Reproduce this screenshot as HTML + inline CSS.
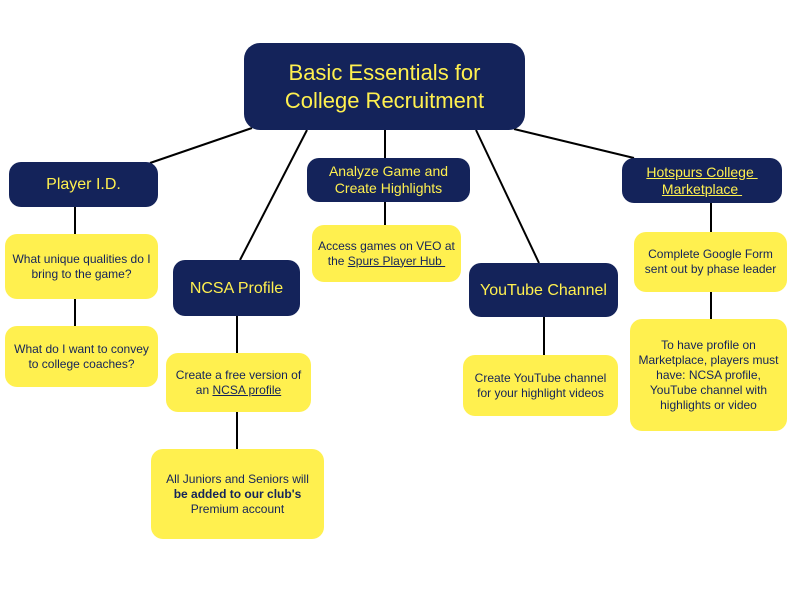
<!DOCTYPE html>
<html><head><style>
body{margin:0;width:792px;height:612px;background:#fff;position:relative;overflow:hidden;font-family:"Liberation Sans",sans-serif}
.b{position:absolute;display:flex;align-items:center;justify-content:center;text-align:center;box-sizing:border-box}
.n{background:#14235a;color:#fff04f;border-radius:12px;font-size:16px;line-height:19px}
.y{background:#fff04f;color:#14235a;border-radius:12px;font-size:12px;line-height:15px;padding:0 2px}
u{text-decoration:underline}
svg{position:absolute;left:0;top:0}
</style></head><body>
<svg width="792" height="612" stroke="#000" stroke-width="2">
<line x1="252" y1="128" x2="150" y2="163"/>
<line x1="307" y1="130" x2="240" y2="260"/>
<line x1="385" y1="130" x2="385" y2="158"/>
<line x1="476" y1="130" x2="539" y2="263"/>
<line x1="514" y1="129" x2="634" y2="158"/>
<line x1="75" y1="207" x2="75" y2="234"/>
<line x1="75" y1="299" x2="75" y2="326"/>
<line x1="237" y1="316" x2="237" y2="353"/>
<line x1="237" y1="412" x2="237" y2="449"/>
<line x1="385" y1="202" x2="385" y2="225"/>
<line x1="544" y1="317" x2="544" y2="355"/>
<line x1="711" y1="203" x2="711" y2="232"/>
<line x1="711" y1="292" x2="711" y2="319"/>
</svg>
<div class="b n" style="left:244px;top:43px;width:281px;height:87px;font-size:22px;line-height:28px;border-radius:16px"><span>Basic Essentials for<br>College Recruitment</span></div>
<div class="b n" style="left:9px;top:162px;width:149px;height:45px"><span>Player I.D.</span></div>
<div class="b n" style="left:173px;top:260px;width:127px;height:56px"><span>NCSA Profile</span></div>
<div class="b n" style="left:307px;top:158px;width:163px;height:44px;font-size:14px;line-height:17px"><span>Analyze Game and<br>Create Highlights</span></div>
<div class="b n" style="left:469px;top:263px;width:149px;height:54px"><span>YouTube Channel</span></div>
<div class="b n" style="left:622px;top:158px;width:160px;height:45px;font-size:14px;line-height:17px"><span><u>Hotspurs College&nbsp;</u><br><u>Marketplace&nbsp;</u></span></div>
<div class="b y" style="left:5px;top:234px;width:153px;height:65px"><span>What unique qualities do I<br>bring to the game?</span></div>
<div class="b y" style="left:5px;top:326px;width:153px;height:61px"><span>What do I want to convey<br>to college coaches?</span></div>
<div class="b y" style="left:166px;top:353px;width:145px;height:59px"><span>Create a free version of<br>an <u>NCSA profile</u></span></div>
<div class="b y" style="left:151px;top:449px;width:173px;height:90px"><span>All Juniors and Seniors will<br><b>be added to our club's</b><br>Premium account</span></div>
<div class="b y" style="left:312px;top:225px;width:149px;height:57px"><span>Access games on VEO at<br>the <u>Spurs Player Hub&nbsp;</u></span></div>
<div class="b y" style="left:463px;top:355px;width:155px;height:61px"><span>Create YouTube channel<br>for your highlight videos</span></div>
<div class="b y" style="left:634px;top:232px;width:153px;height:60px"><span>Complete Google Form<br>sent out by phase leader</span></div>
<div class="b y" style="left:630px;top:319px;width:157px;height:112px"><span>To have profile on<br>Marketplace, players must<br>have: NCSA profile,<br>YouTube channel with<br>highlights or video</span></div>
</body></html>
